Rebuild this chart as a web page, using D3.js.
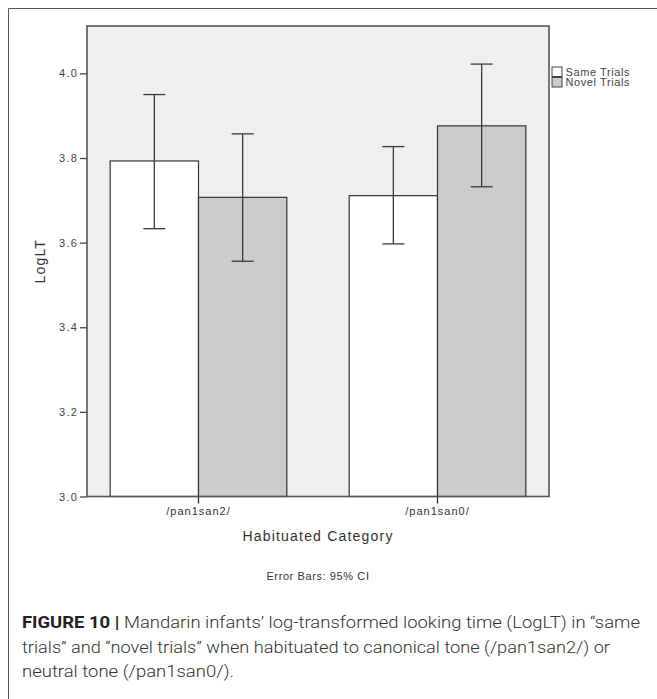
<!DOCTYPE html>
<html>
<head>
<meta charset="utf-8">
<script src="https://cdn.jsdelivr.net/npm/d3@7"></script>
<style>
  html, body { margin: 0; padding: 0; background: #ffffff; }
  svg { display: block; }
  text { font-family: "Liberation Sans", Arial, sans-serif; }
</style>
</head>
<body>
<svg id="chart" width="657" height="699"></svg>
<script>
// ---- data ----
const categories = ["/pan1san2/", "/pan1san0/"];
const seriesNames = ["Same Trials", "Novel Trials"];
const sameMeans   = [3.793, 3.711];
const novelMeans  = [3.707, 3.876];
const sameLower   = [3.633, 3.597];
const sameUpper   = [3.950, 3.827];
const novelLower  = [3.556, 3.732];
const novelUpper  = [3.857, 4.022];
const yTicks = [3.0, 3.2, 3.4, 3.6, 3.8, 4.0];
const captionLines = [
  [["FIGURE 10 | ", true], ["Mandarin infants\u2019 log-transformed looking time (LogLT) in \u201csame", false]],
  [["trials\u201d and \u201cnovel trials\u201d when habituated to canonical tone (/pan1san2/) or", false]],
  [["neutral tone (/pan1san0/).", false]]
];
const captionWidths = [618, 588, 212];

const rows = [];
categories.forEach((c, i) => {
  rows.push({cat: c, series: seriesNames[0], mean: sameMeans[i], lo: sameLower[i], hi: sameUpper[i]});
  rows.push({cat: c, series: seriesNames[1], mean: novelMeans[i], lo: novelLower[i], hi: novelUpper[i]});
});

const svg = d3.select("#chart");
const fills = {"Same Trials": "#ffffff", "Novel Trials": "#cccccc"};

// outer frame (open on right / bottom)
svg.append("path")
  .attr("d", "M8.5,699 L8.5,8.5 L657,8.5")
  .attr("fill", "none").attr("stroke", "#555").attr("stroke-width", 1);

const plot = {left: 87, top: 26, right: 549, bottom: 496.5};

const y = d3.scaleLinear().domain([3.0, 4.112]).range([plot.bottom, plot.top]);
const x0 = d3.scaleBand().domain(categories).range([plot.left, plot.right])
  .paddingInner(0.261).paddingOuter(0.097);
const x1 = d3.scaleBand().domain(seriesNames).range([0, x0.bandwidth()]).padding(0);

// plot background
svg.append("rect")
  .attr("x", plot.left).attr("y", plot.top)
  .attr("width", plot.right - plot.left).attr("height", plot.bottom - plot.top)
  .attr("fill", "#efefef");

// bars
svg.append("g").selectAll("rect").data(rows).join("rect")
  .attr("x", d => x0(d.cat) + x1(d.series))
  .attr("y", d => y(d.mean))
  .attr("width", x1.bandwidth())
  .attr("height", d => y(3.0) - y(d.mean))
  .attr("fill", d => fills[d.series])
  .attr("stroke", "#333").attr("stroke-width", 1.2);

// error bars
const eb = svg.append("g").attr("stroke", "#3a3a3a").attr("stroke-width", 1.3).attr("fill", "none");
const cap = 11;
rows.forEach(d => {
  const cx = x0(d.cat) + x1(d.series) + x1.bandwidth() / 2;
  eb.append("line").attr("x1", cx).attr("x2", cx).attr("y1", y(d.lo)).attr("y2", y(d.hi));
  eb.append("line").attr("x1", cx - cap).attr("x2", cx + cap).attr("y1", y(d.lo)).attr("y2", y(d.lo));
  eb.append("line").attr("x1", cx - cap).attr("x2", cx + cap).attr("y1", y(d.hi)).attr("y2", y(d.hi));
});

// plot border
svg.append("rect")
  .attr("x", plot.left).attr("y", plot.top)
  .attr("width", plot.right - plot.left).attr("height", plot.bottom - plot.top)
  .attr("fill", "none").attr("stroke", "#555").attr("stroke-width", 1.6);

// y axis
const yAxis = d3.axisLeft(y).tickValues(yTicks).tickFormat(d3.format(".1f")).tickSize(7).tickPadding(2);
const gy = svg.append("g").attr("transform", `translate(${plot.left},0)`).call(yAxis);
gy.select(".domain").remove();
gy.selectAll(".tick line").attr("stroke", "#444").attr("stroke-width", 1.3);
gy.selectAll(".tick text").attr("fill", "#444").style("font-size", "11px").style("letter-spacing", "1.2px")
  .style("font-family", "'Liberation Sans', Arial, sans-serif");

// x axis
const xAxis = d3.axisBottom(x0).tickSize(7).tickPadding(4);
const gx = svg.append("g").attr("transform", `translate(0,${plot.bottom})`).call(xAxis);
gx.select(".domain").remove();
gx.selectAll(".tick line").attr("stroke", "#333").attr("stroke-width", 1.3);
gx.selectAll(".tick text").attr("fill", "#333").style("font-size", "11px").style("letter-spacing", "1px")
  .style("font-family", "'Liberation Sans', Arial, sans-serif");

// axis titles
svg.append("text").attr("x", (plot.left + plot.right) / 2).attr("y", 541)
  .attr("text-anchor", "middle").attr("fill", "#333")
  .style("font-size", "14px").style("letter-spacing", "1.2px").text("Habituated Category");

svg.append("text").attr("transform", `translate(45,${(plot.top + plot.bottom) / 2}) rotate(-90)`)
  .attr("text-anchor", "middle").attr("fill", "#333")
  .style("font-size", "14px").style("letter-spacing", "1.2px").text("LogLT");

svg.append("text").attr("x", (plot.left + plot.right) / 2).attr("y", 580)
  .attr("text-anchor", "middle").attr("fill", "#333")
  .style("font-size", "11px").style("letter-spacing", "0.6px").text("Error Bars: 95% CI");

// legend
const lg = svg.append("g");
seriesNames.forEach((s, i) => {
  const yy = 67 + i * 10.5;
  lg.append("rect").attr("x", 552).attr("y", yy).attr("width", 10).attr("height", 9.5)
    .attr("fill", fills[s]).attr("stroke", "#444").attr("stroke-width", 1);
  lg.append("text").attr("x", 565.5).attr("y", yy + 8.5).attr("fill", "#444")
    .style("font-size", "11px").style("letter-spacing", "0.6px").text(s);
});

// caption
const capG = svg.append("g");
captionLines.forEach((parts, i) => {
  const t = capG.append("text").attr("x", 22).attr("y", 628 + i * 24.5)
    .attr("fill", "#333").style("font-size", "17px")
    .attr("textLength", captionWidths[i]).attr("lengthAdjust", "spacingAndGlyphs")
    .style("font-family", "Roboto, 'Liberation Sans', sans-serif");
  parts.forEach(([str, bold]) => {
    t.append("tspan").attr("font-weight", bold ? 700 : 300)
      .attr("fill", bold ? "#222" : "#333").text(str);
  });
});
</script>
</body>
</html>
